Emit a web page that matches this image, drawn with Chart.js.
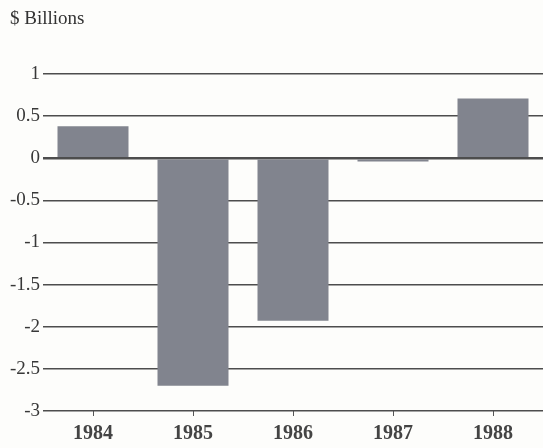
<!DOCTYPE html>
<html>
<head>
<meta charset="utf-8">
<script src="https://cdn.jsdelivr.net/npm/chart.js@4"></script>
<style>
  html, body { margin: 0; padding: 0; background: #fdfdfb; }
  #wrap { position: relative; width: 543px; height: 448px; }
  #unit { position: absolute; left: 10px; top: 7px; font-family: "Liberation Serif", serif; font-size: 19px; color: #333; }
</style>
</head>
<body>
<div id="wrap">
  <div id="unit">$ Billions</div>
  <canvas id="c" width="543" height="448"></canvas>
</div>
<script>
const categories = ["1984", "1985", "1986", "1987", "1988"];
const values = [0.38, -2.70, -1.93, -0.04, 0.71];
const yTicks = [1, 0.5, 0, -0.5, -1, -1.5, -2, -2.5, -3];

new Chart(document.getElementById('c'), {
  type: 'bar',
  data: {
    labels: categories,
    datasets: [{
      data: values,
      backgroundColor: '#81848e',
      borderWidth: 0,
      barPercentage: 0.71,
      categoryPercentage: 1.0
    }]
  },
  options: {
    responsive: false,
    animation: false,
    layout: { padding: { top: 74, right: 0, bottom: 0, left: 0 } },
    plugins: { legend: { display: false }, tooltip: { enabled: false } },
    scales: {
      x: {
        offset: true,
        grid: { display: true, drawOnChartArea: false, drawTicks: true, tickLength: 5, offset: false, color: '#555', lineWidth: 1 },
        border: { display: false },
        ticks: { color: '#444', font: { family: 'Liberation Serif', size: 20, weight: 'bold' }, padding: 6, maxRotation: 0 },
        afterFit: s => { s.height = 37; }
      },
      y: {
        min: -3, max: 1,
        afterBuildTicks: s => { s.ticks = yTicks.map(v => ({ value: v })); },
        grid: { color: '#4d4d4d', lineWidth: ctx => (ctx.tick && ctx.tick.value === 0 ? 2.5 : 1.5), drawTicks: false },
        border: { display: false },
        ticks: { color: '#383838', font: { family: 'Liberation Serif', size: 19 }, padding: 3,
                 callback: v => String(v) },
        afterFit: s => { s.width = 43; }
      }
    }
  }
});
</script>
</body>
</html>
